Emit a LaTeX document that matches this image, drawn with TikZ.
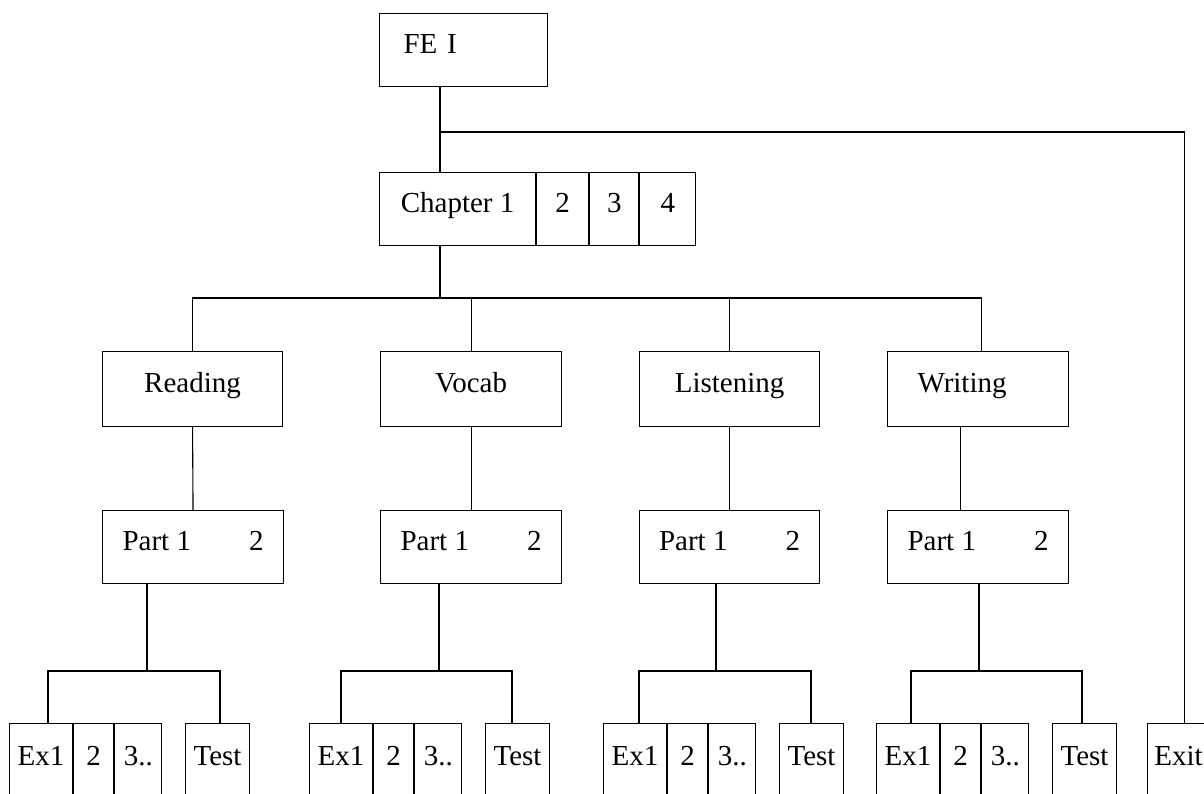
\documentclass[tikz,border=0pt]{standalone}
\usepackage{fontspec}
\setmainfont{Liberation Serif}
\usetikzlibrary{positioning}

\tikzset{
  box/.style={draw, line width=1.1pt, inner sep=0pt, anchor=north west,
    text height=0.66em, text depth=0pt, font=\fontsize{29}{34}\selectfont},
  cell/.style={box, minimum height=78pt},
  link/.style={line width=1.1pt},
}

\begin{document}
\begin{tikzpicture}[x=1pt,y=-1pt]
\useasboundingbox (0,0) rectangle (1204,793);

% ------------------------------------------------------------
% Top level: course and chapters
% ------------------------------------------------------------
\node[box, minimum width=168pt, minimum height=73pt, inner xsep=24pt,
  text width=120pt, align=left] (fe) at (379,13) {FE I};

\node[box, minimum width=156pt, minimum height=73pt] (ch1) at (379,172) {Chapter 1};
\node[box, minimum width=52pt, minimum height=73pt, right=0pt of ch1] (ch2) {2};
\node[box, minimum width=49pt, minimum height=73pt, right=0pt of ch2] (ch3) {3};
\node[box, minimum width=56pt, minimum height=73pt, right=0pt of ch3] (ch4) {4};

\node[cell, minimum width=62pt] (exit) at (1147,723) {Exit};

% ------------------------------------------------------------
% Skills and parts
% ------------------------------------------------------------
\node[box, minimum width=180pt, minimum height=75pt] (read) at (102,351) {Reading};
\node[box, minimum width=181pt, minimum height=75pt] (vocab) at (380,351) {Vocab};
\node[box, minimum width=180pt, minimum height=75pt] (listen) at (639,351) {Listening};
\node[box, minimum width=181pt, minimum height=75pt, inner xsep=30pt,
  text width=121pt, align=left] (write) at (887,351) {Writing};

\node[box, minimum width=181pt, minimum height=73pt] (readp) at (102,510) {Part 1\hspace{2em}2};
\node[box, minimum width=181pt, minimum height=73pt] (vocabp) at (380,510) {Part 1\hspace{2em}2};
\node[box, minimum width=180pt, minimum height=73pt] (listenp) at (639,510) {Part 1\hspace{2em}2};
\node[box, minimum width=181pt, minimum height=73pt] (writep) at (887,510) {Part 1\hspace{2em}2};

% ------------------------------------------------------------
% Exercises and tests (cut off at the bottom edge)
% ------------------------------------------------------------
\foreach \g/\ex in {read/9, vocab/309, listen/603, write/876} {
  \node[cell, minimum width=63pt] (\g x1) at (\ex,723) {Ex1};
  \node[cell, minimum width=40pt, right=0pt of \g x1] (\g x2) {2};
  \node[cell, minimum width=47pt, right=0pt of \g x2] (\g x3) {3..};
  \node[cell, minimum width=64pt] (\g t) at (\ex+176,723) {Test};
}

% ------------------------------------------------------------
% Connectors
% ------------------------------------------------------------
\coordinate (trunk) at (440,132);
\coordinate (bus) at (0,298);
\coordinate (sub) at (0,671);
\coordinate (writetop) at ([xshift=3pt]write.north);
\coordinate (exittop) at ([xshift=6pt]exit.north);

\draw[link] (fe.south -| trunk) -- (ch1.north -| trunk);
\draw[link] (trunk) -| (exittop);
\draw[link] (ch1.south -| trunk) -- (bus -| trunk);

\draw[link] (read.north) |- (bus -| writetop) -- (writetop);
\draw[link] (vocab.north) -- (vocab.north |- bus);
\draw[link] (listen.north) -- (listen.north |- bus);

\draw[link] (read.south) -- (readp.north);
\draw[link] (vocab.south) -- (vocab.south |- vocabp.north);
\draw[link] (listen.south) -- (listen.south |- listenp.north);
\draw[link] ([xshift=-18pt]write.south) -- ([xshift=-18pt]writep.north);

\foreach \g/\px/\bl/\br in {read/45/39/35, vocab/59/32/27, listen/77/36/32, write/92/35/30} {
  \coordinate (\g d) at ([xshift=\px pt]\g p.south west);
  \coordinate (\g a) at ([xshift=\bl pt]\g x1.north west);
  \coordinate (\g b) at ([xshift=\br pt]\g t.north west);
  \draw[link] (\g d) -- (\g d |- sub);
  \draw[link] (\g a) |- (\g b |- sub) -- (\g b);
}

\end{tikzpicture}
\end{document}
